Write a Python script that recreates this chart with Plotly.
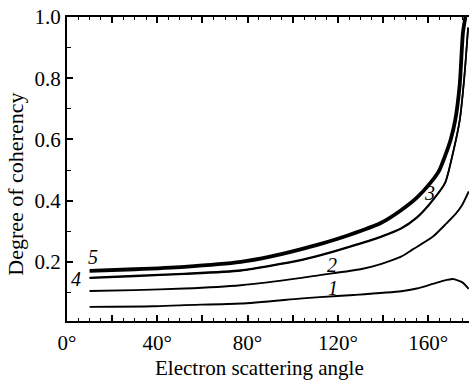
import plotly.graph_objects as go

# Curve 1
x1 = [10, 38, 52, 77, 103, 112, 127, 148, 155, 162, 167, 171, 175, 178]
y1 = [0.053, 0.055, 0.059, 0.064, 0.080, 0.085, 0.092, 0.104, 0.113, 0.128, 0.139, 0.144, 0.134, 0.112]
# Curve 2
x2 = [10, 30, 52, 77, 103, 112, 130, 139, 148, 153, 162, 168, 172, 175, 178]
y2 = [0.105, 0.108, 0.113, 0.124, 0.147, 0.157, 0.176, 0.193, 0.217, 0.240, 0.282, 0.325, 0.355, 0.385, 0.43]
# Curve 3
x3 = [10, 30, 52, 77, 103, 112, 125, 139, 148, 155, 161, 167.5, 171, 174, 176, 177.7]
y3 = [0.147, 0.153, 0.160, 0.171, 0.204, 0.220, 0.248, 0.281, 0.308, 0.344, 0.391, 0.457, 0.555, 0.662, 0.80, 0.964]
# Curve 4
x4 = [10, 30, 52, 77, 103, 112, 125, 139, 148, 155, 161, 167.5, 171, 174, 176, 177.7]
y4 = [0.149, 0.155, 0.162, 0.173, 0.206, 0.222, 0.250, 0.283, 0.310, 0.346, 0.393, 0.459, 0.557, 0.664, 0.802, 0.966]
# Curve 5 (thick)
x5 = [10, 30, 52, 77, 90, 103, 112, 125, 139, 148, 155, 161, 165, 168, 170, 172, 174, 175.4, 176.5]
y5 = [0.171, 0.176, 0.184, 0.200, 0.217, 0.240, 0.258, 0.288, 0.327, 0.369, 0.410, 0.458, 0.500, 0.556, 0.600, 0.663, 0.780, 0.948, 1.0]

curve_labels = ["1", "2", "3", "4", "5"]
label_x = [118, 117.5, 160.8, 3.8, 11.3]
label_y = [0.114, 0.19, 0.425, 0.144, 0.216]

x_tickvals = [0, 20, 40, 60, 80, 100, 120, 140, 160]
x_ticktext = ["0°", "", "40°", "", "80°", "", "120°", "", "160°"]
y_tickvals = [0.2, 0.4, 0.6, 0.8, 1.0]
y_ticktext = ["0.2", "0.4", "0.6", "0.8", "1.0"]

FONT = "Liberation Serif"

fig = go.Figure()
for xs, ys, w in [(x1, y1, 1.9), (x2, y2, 1.9), (x3, y3, 1.7), (x4, y4, 1.7), (x5, y5, 3.8)]:
    fig.add_trace(go.Scatter(x=xs, y=ys, mode="lines",
                             line=dict(color="black", width=w, shape="spline", smoothing=0.6),
                             showlegend=False, hoverinfo="skip"))

annotations = []
for t, lx, ly in zip(curve_labels, label_x, label_y):
    annotations.append(dict(x=lx, y=ly, xref="x", yref="y", text="<i>" + t + "</i>", showarrow=False,
                            font=dict(family=FONT, size=20, color="black")))
annotations.append(dict(x=0.48, y=-0.155, xref="paper", yref="paper", text="Electron scattering angle",
                        showarrow=False, xanchor="center", yanchor="middle",
                        font=dict(family=FONT, size=21, color="black")))
annotations.append(dict(x=-0.128, y=0.45, xref="paper", yref="paper", text="Degree of coherency",
                        showarrow=False, textangle=-90, xanchor="center", yanchor="middle",
                        font=dict(family=FONT, size=22, color="black")))

fig.update_layout(
    width=469, height=383,
    margin=dict(l=66.5, r=0, t=17, b=62),
    paper_bgcolor="white", plot_bgcolor="white",
    font=dict(family=FONT, size=20, color="black"),
    annotations=annotations,
)

fig.update_xaxes(range=[0, 178.1], tickvals=x_tickvals, ticktext=x_ticktext, ticks="inside", ticklen=6,
                 tickwidth=1.5, tickcolor="black", showline=True, linecolor="black", linewidth=2,
                 mirror="allticks", showgrid=False, zeroline=False, ticklabelstandoff=2,
                 tickfont=dict(family=FONT, size=21, color="black"),
                 minor=dict(dtick=5, ticks="inside", ticklen=3, tickcolor="black", tickwidth=1, showgrid=False))
fig.update_yaxes(range=[0.007, 1.0], tickvals=y_tickvals, ticktext=y_ticktext, ticks="inside", ticklen=6,
                 tickwidth=1.5, tickcolor="black", showline=True, linecolor="black", linewidth=2,
                 mirror=False, showgrid=False, zeroline=False,
                 tickfont=dict(family=FONT, size=21, color="black"),
                 minor=dict(dtick=0.1, tick0=0.0, ticks="inside", ticklen=4, tickcolor="black",
                            tickwidth=1, showgrid=False))

fig.write_html("out.html", config={"displayModeBar": False},
               post_script="document.body.style.margin='0';document.body.style.overflow='hidden';")
